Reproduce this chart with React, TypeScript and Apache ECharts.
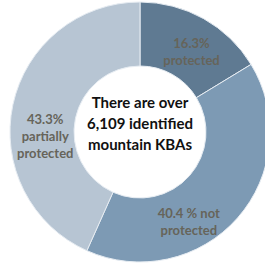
import React, { useEffect, useRef } from "react";
import * as echarts from "echarts";

const categories = ["protected", "not protected", "partially protected"];
const values = [16.3, 40.4, 43.3];
const labelTexts = ["16.3%\nprotected", "40.4 % not\nprotected", "43.3%\npartially\nprotected"];
const colors = ["#5f7a92", "#7d9ab4", "#b7c5d3"];
const centerLines = ["There are over", "6,109 identified", "mountain KBAs"];
const labelShift = [
  [2, 8],
  [-27, 23],
  [4, 25],
];

export default function App() {
  const ref = useRef<HTMLDivElement>(null);
  useEffect(() => {
    if (!ref.current) return;
    const chart = echarts.init(ref.current, null, { renderer: "svg" });
    chart.setOption({
      animation: false,
      backgroundColor: "#ffffff",
      graphic: [
        {
          type: "text",
          x: 140,
          y: 123,
          style: {
            text: centerLines.join("\n"),
            font: "bold 15px Lato",
            fill: "#111111",
            align: "center",
            verticalAlign: "middle",
            lineHeight: 21,
          },
        },
      ],
      series: [
        {
          type: "pie",
          center: [140, 132],
          radius: [66, 130],
          startAngle: 90,
          clockwise: true,
          silent: true,
          itemStyle: { borderColor: "#e6ecf2", borderWidth: 1 },
          label: {
            show: true,
            position: "inside",
            formatter: (p: any) => labelTexts[p.dataIndex],
            fontFamily: "Lato",
            fontWeight: "bold",
            fontSize: 13,
            lineHeight: 17,
            color: "#66645a",
          },
          labelLayout: (p: any) => ({
            dx: labelShift[p.dataIndex][0],
            dy: labelShift[p.dataIndex][1],
          }),
          data: categories.map((name, i) => ({
            name,
            value: values[i],
            itemStyle: { color: colors[i] },
          })),
        },
      ],
    });
    return () => chart.dispose();
  }, []);
  return (
    <div
      ref={ref}
      style={{ position: "fixed", left: 0, top: 0, width: 265, height: 264 }}
    />
  );
}
